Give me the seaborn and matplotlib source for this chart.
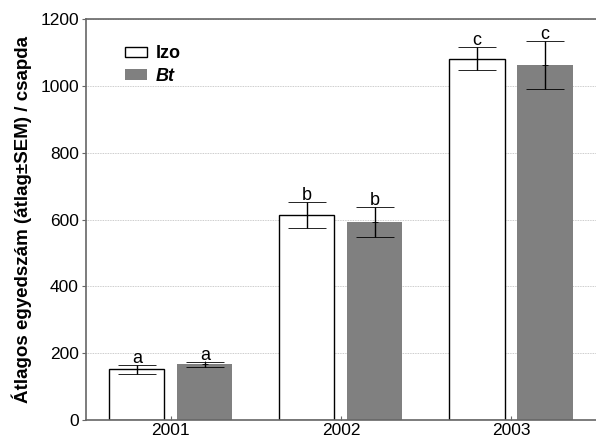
import pandas as pd
import seaborn as sns
import matplotlib.pyplot as plt
from matplotlib.patches import Patch

years = ["2001", "2002", "2003"]
groups = ["Izo", "Bt"]
izo_mean = [152, 614, 1082]
izo_sem = [13, 39, 35]
bt_mean = [167, 593, 1063]
bt_sem = [7, 45, 72]
izo_letters = ["a", "b", "c"]
bt_letters = ["a", "b", "c"]

df = pd.DataFrame({
    "year": years * 2,
    "group": ["Izo"] * 3 + ["Bt"] * 3,
    "mean": izo_mean + bt_mean,
})

sns.set_style("white")
plt.rcParams["font.family"] = ["Liberation Sans", "DejaVu Sans"]
plt.rcParams["text.color"] = "black"
plt.rcParams["axes.labelcolor"] = "black"

fig = plt.figure(figsize=(5.96, 4.45), dpi=100)
ax = fig.add_axes([0.144, 0.056, 0.856, 0.901])

sns.barplot(data=df, x="year", y="mean", hue="group", hue_order=groups,
            palette=["white", "#808080"], width=0.8, gap=0.19,
            errorbar=None, ax=ax, legend=False)

# white bars get a black outline, grey ones none
for p in ax.containers[0]:
    p.set_edgecolor("black")
    p.set_linewidth(1.0)
for p in ax.containers[1]:
    p.set_edgecolor("none")

# error bars + letters from bar positions
for cont, means, sems, letters in [(ax.containers[0], izo_mean, izo_sem, izo_letters),
                                   (ax.containers[1], bt_mean, bt_sem, bt_letters)]:
    xs = [p.get_x() + p.get_width() / 2 for p in cont]
    ax.errorbar(xs, means, yerr=sems, fmt="+", ms=4, mew=0.6, color="black",
                ecolor="black", elinewidth=1.0, capsize=14, capthick=1.0, zorder=5)
    for x, m, s, l in zip(xs, means, sems, letters):
        ax.text(x, m + s - 6, l, ha="center", va="bottom", fontsize=13, color="black")

ax.set_xlim(-0.5, 2.5)
ax.set_ylim(0, 1200)
ax.set_yticks(range(0, 1201, 200))
ax.yaxis.grid(True, linestyle=(0, (1, 1)), color="#bbbbbb", linewidth=0.6)
ax.set_axisbelow(True)

for s in ["left", "bottom", "top"]:
    ax.spines[s].set_color("#666666")
    ax.spines[s].set_linewidth(1.2)
ax.spines["right"].set_visible(False)

ax.tick_params(axis="y", direction="out", length=3, labelsize=12.5, left=True,
               color="#666666", labelcolor="black", pad=2)
ax.tick_params(axis="x", direction="in", length=3, labelsize=12.5, bottom=True,
               color="#666666", labelcolor="black", pad=2)
ax.set_xlabel("")
ax.set_ylabel("Átlagos egyedszám (átlag±SEM) / csapda", fontsize=13.5,
              fontweight="bold", labelpad=6, color="black")

handles = [Patch(facecolor="white", edgecolor="black", linewidth=1.0),
           Patch(facecolor="#808080", edgecolor="none")]
leg = ax.legend(handles, groups, loc="upper left", bbox_to_anchor=(0.045, 0.975),
                frameon=False, fontsize=13, handlelength=1.2, handleheight=0.55,
                handletextpad=0.5, labelspacing=0.3, labelcolor="black")
texts = leg.get_texts()
texts[0].set_fontweight("bold")
texts[1].set_fontweight("bold")
texts[1].set_fontstyle("italic")

fig.savefig("out.png", dpi=100)
